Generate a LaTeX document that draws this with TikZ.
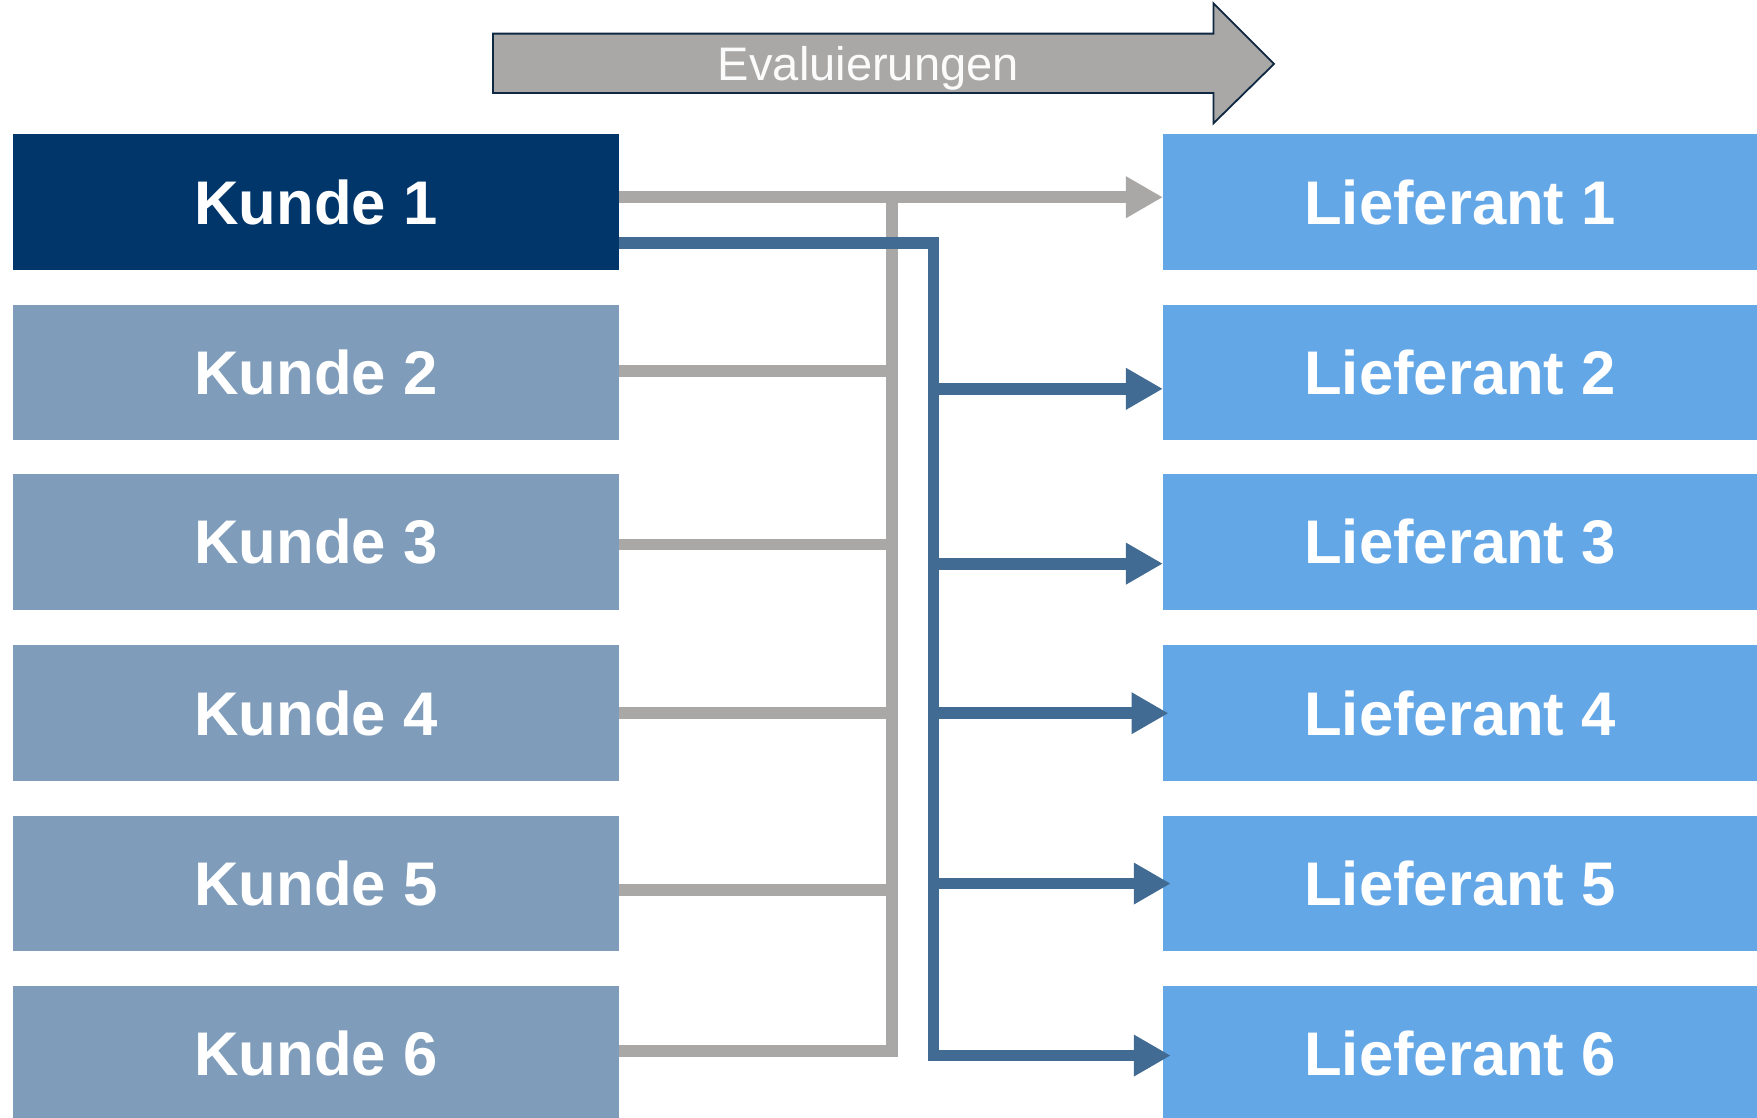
\documentclass[tikz,border=0pt]{standalone}
\usepackage{fontspec}
\setmainfont{Liberation Sans}
\usetikzlibrary{arrows.meta}
\definecolor{kdark}{HTML}{00366A}
\definecolor{kmid}{HTML}{7F9DBA}
\definecolor{lief}{HTML}{63A7E7}
\definecolor{gline}{HTML}{A9A8A6}
\definecolor{bline}{HTML}{416B92}
\definecolor{outl}{HTML}{0E2841}
\tikzset{
  box/.style={rectangle, inner sep=0pt, minimum width=540pt, minimum height=121pt, text=white,
    font=\fontsize{55}{60}\selectfont\bfseries},
  kbox/.style={box, fill=kmid},
  lbox/.style={box, fill=lief, minimum width=530pt},
  gl/.style={draw=gline, line width=10.5pt, line join=miter},
  bl/.style={draw=bline, line width=10.5pt, line join=miter},
  gtip/.style={-{Triangle[length=33pt,width=35pt]}},
}
\begin{document}
\begin{tikzpicture}[x=1pt,y=-1pt]
\useasboundingbox (0,0) rectangle (1568,997);
% evaluation arrow
\draw[fill=gline, draw=outl, line width=1.6pt] (440,30) -- (1083,30) -- (1083,3) -- (1137,57) -- (1083,110) -- (1083,83) -- (440,83) -- cycle;
\node[anchor=base, text=white!95!gline, font=\fontsize{42}{46}\selectfont] (ev) at (775,72) {Evaluierungen};
% Kunden
\node[kbox, fill=kdark] (k1) at (282,180.5) {Kunde 1};
\node[kbox] (k2) at (282,332.5) {Kunde 2};
\node[kbox] (k3) at (282,483.5) {Kunde 3};
\node[kbox] (k4) at (282,636.5) {Kunde 4};
\node[kbox] (k5) at (282,788.5) {Kunde 5};
\node[kbox] (k6) at (282,940.5) {Kunde 6};
% Lieferanten
\node[lbox] (l1) at (1303,180.5) {Lieferant 1};
\node[lbox] (l2) at (1303,332.5) {Lieferant 2};
\node[lbox] (l3) at (1303,483.5) {Lieferant 3};
\node[lbox] (l4) at (1303,636.5) {Lieferant 4};
\node[lbox] (l5) at (1303,788.5) {Lieferant 5};
\node[lbox] (l6) at (1303,940.5) {Lieferant 6};
% gray connectors
\coordinate (gt) at (796,176);
\draw[gl] ([yshift=2.5pt]k6.east) -| (gt);
\draw[gl] ([yshift=1.5pt]k2.east) -- ([yshift=1.5pt]k2.east -| gt);
\draw[gl] ([yshift=-2.5pt]k3.east) -- ([yshift=-2.5pt]k3.east -| gt);
\draw[gl] (k4.east) -- (k4.east -| gt);
\draw[gl] ([yshift=-5.5pt]k5.east) -- ([yshift=-5.5pt]k5.east -| gt);
\draw[gl, gtip] ([yshift=4.5pt]k1.east) -- ([yshift=4.5pt]l1.west);
% blue connectors
\coordinate (bv) at (833,217);
\coordinate (b6) at ([yshift=-1.5pt]l6.west);
\draw[bl, gtip] ([yshift=-36.5pt]k1.east) -| (b6 -| bv) -- ([xshift=7pt]b6);
\draw[bl, gtip] ([yshift=-14.5pt]l2.west -| bv) -- ([yshift=-14.5pt]l2.west);
\draw[bl, gtip] ([yshift=-19.5pt]l3.west -| bv) -- ([yshift=-19.5pt]l3.west);
\draw[bl, gtip] (l4.west -| bv) -- ([xshift=5pt]l4.west);
\draw[bl, gtip] (l5.west -| bv) -- ([xshift=7pt]l5.west);
\end{tikzpicture}
\end{document}
